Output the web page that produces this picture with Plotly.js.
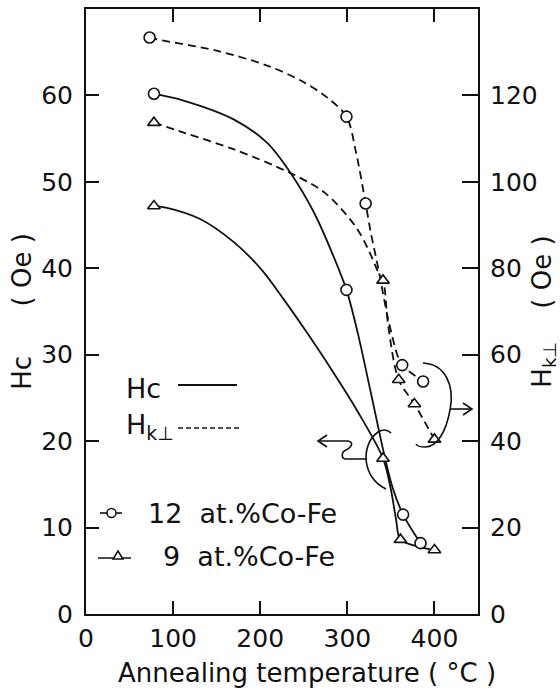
<!DOCTYPE html>
<html>
<head>
<meta charset="utf-8">
<script src="https://cdn.plot.ly/plotly-3.0.1.min.js"></script>
<style>
  html, body { margin: 0; padding: 0; background: #fff; }
  #chart { width: 560px; height: 688px; }
</style>
</head>
<body>
<div id="chart"></div>
<script>
// Measured points: coercive force Hc (left axis) and perpendicular anisotropy field Hk (right axis)
const tempHc12 = [78, 299, 364, 384];
const hc12     = [60.2, 37.5, 11.5, 8.2];
const tempHc9  = [78, 341, 361, 400];
const hc9      = [47.2, 18.0, 8.6, 7.4];
const tempHk12 = [73, 299, 321, 363, 387];
const hk12     = [133.4, 115.1, 95.0, 57.6, 53.8];
const tempHk9  = [78, 341, 359, 377, 400];
const hk9      = [113.7, 77.2, 54.2, 48.6, 40.4];

// Hand-drawn guide curves through the points, sampled along the drawn lines
const curveHc12T = [78, 112, 170, 208, 235, 262, 282, 299, 312, 327, 342, 352, 364, 384];
const curveHc12  = [60.2, 59.4, 57.2, 54.5, 51.0, 46.4, 41.9, 37.5, 32.5, 25.6, 18.6, 14.6, 11.5, 8.2];
const curveHc9T  = [78, 93, 131, 170, 201, 227, 254, 281, 312, 341, 350, 356, 361, 385, 400];
const curveHc9   = [47.2, 47.0, 45.7, 43.0, 39.9, 36.4, 32.5, 28.4, 23.4, 18.0, 14.4, 10.9, 8.6, 7.7, 7.4];
const curveHk12T = [73, 81, 151, 208, 247, 277, 299, 310, 321, 327, 335, 347, 358, 363, 387];
const curveHk12  = [133.4, 133.0, 130.3, 126.9, 123.4, 119.5, 115.1, 106.8, 95.0, 88.2, 80.5, 68.1, 59.6, 57.6, 53.8];
const curveHk9T  = [78, 112, 170, 235, 274, 309, 324, 335, 341, 347, 359, 377, 400];
const curveHk9   = [113.7, 111.4, 107.5, 102.0, 97.5, 89.8, 84.4, 79.3, 77.2, 66.6, 54.2, 48.6, 40.4];

// Axis ticks
const tempTicks = [0, 100, 200, 300, 400];
const hcTicks   = [0, 10, 20, 30, 40, 50, 60];
const hkTicks   = [0, 20, 40, 60, 80, 100, 120];

const FONT = 'DejaVu Sans';
const INK = '#111';

// Plot frame in pixels, used to place the key, the arrows and the x title
const L = 86, R = 478, T = 9, B = 614;
const W = 560, H = 688;
const px = x => (x - L) / (R - L);
const py = y => (B - y) / (B - T);
const path = s => s.replace(/(-?\d+(?:\.\d+)?),(-?\d+(?:\.\d+)?)/g,
  (m, a, b) => px(+a).toFixed(4) + ',' + py(+b).toFixed(4));

const solid = {color: INK, width: 1.8};
const dashed = {color: INK, width: 1.8, dash: '8px,5px'};
const circ = {symbol: 'circle', size: 11, color: '#fff', line: {color: INK, width: 1.6}};
const tri  = {symbol: 'triangle-up', size: 11, color: '#fff', line: {color: INK, width: 1.6}};
const spl = s => Object.assign({shape: 'spline', smoothing: 0.9}, s);

const traces = [
  {x: curveHc12T, y: curveHc12, mode: 'lines', line: spl(solid),  yaxis: 'y'},
  {x: curveHc9T,  y: curveHc9,  mode: 'lines', line: spl(solid),  yaxis: 'y'},
  {x: curveHk12T, y: curveHk12, mode: 'lines', line: spl(dashed), yaxis: 'y2'},
  {x: curveHk9T,  y: curveHk9,  mode: 'lines', line: spl(dashed), yaxis: 'y2'},
  {x: tempHc12, y: hc12, mode: 'markers', marker: circ, yaxis: 'y'},
  {x: tempHc9,  y: hc9,  mode: 'markers', marker: tri,  yaxis: 'y'},
  {x: tempHk12, y: hk12, mode: 'markers', marker: circ, yaxis: 'y2'},
  {x: tempHk9,  y: hk9,  mode: 'markers', marker: tri,  yaxis: 'y2'}
];

const tickFont = {family: FONT, size: 25, color: INK};
const titleFont = {family: FONT, size: 26, color: INK};
const keyFont = {family: FONT, size: 27, color: INK};
const NB = '\u00A0';

const shapes = [
  // key: line styles
  {type: 'line', xref: 'paper', yref: 'paper', x0: px(178), x1: px(237), y0: py(385), y1: py(385), line: {color: INK, width: 2}},
  {type: 'line', xref: 'paper', yref: 'paper', x0: px(178), x1: px(242), y0: py(428), y1: py(428), line: {color: INK, width: 1.6, dash: '5px,3px'}},
  // key: sample symbols
  {type: 'line', xref: 'paper', yref: 'paper', x0: px(100), x1: px(122), y0: py(513), y1: py(513), line: {color: INK, width: 1.6}},
  {type: 'circle', xref: 'paper', yref: 'paper', x0: px(107), x1: px(116), y0: py(517.5), y1: py(508.5), fillcolor: '#fff', line: {color: INK, width: 1.5}},
  {type: 'line', xref: 'paper', yref: 'paper', x0: px(98), x1: px(131), y0: py(558), y1: py(558), line: {color: INK, width: 1.6}},
  {type: 'path', xref: 'paper', yref: 'paper', path: path('M 113,559 L 123,559 L 118,551 Z'), fillcolor: '#fff', line: {color: INK, width: 1.5}},
  // arrow pointing to the left axis
  {type: 'path', xref: 'paper', yref: 'paper', path: path('M 386,489 C 362,478 360,445 378,432 C 383,429 388,430 391,433'), line: {color: INK, width: 1.6}},
  {type: 'path', xref: 'paper', yref: 'paper', path: path('M 367,459 L 346,459 C 341,459 341,452 346,450 C 352,447 354,442 348,441 L 318,441'), line: {color: INK, width: 1.6}},
  {type: 'path', xref: 'paper', yref: 'paper', path: path('M 327,435 L 318,441 L 327,447'), line: {color: INK, width: 1.6}},
  // arrow pointing to the right axis
  {type: 'path', xref: 'paper', yref: 'paper', path: path('M 423,363 C 445,364 455,385 450,410 C 446,432 437,447 425,447 C 420,447 417,446 416,444'), line: {color: INK, width: 1.6}},
  {type: 'path', xref: 'paper', yref: 'paper', path: path('M 450,409 L 472,409'), line: {color: INK, width: 1.6}},
  {type: 'path', xref: 'paper', yref: 'paper', path: path('M 463,403 L 472,409 L 463,415'), line: {color: INK, width: 1.6}}
];

const annotations = [
  {xref: 'paper', yref: 'paper', x: px(124), y: py(388), xanchor: 'left', yanchor: 'middle', showarrow: false, text: 'Hc', font: keyFont},
  {xref: 'paper', yref: 'paper', x: px(124), y: py(426), xanchor: 'left', yanchor: 'middle', showarrow: false, text: 'H<sub>k⊥</sub>', font: keyFont},
  {xref: 'paper', yref: 'paper', x: px(146), y: py(513), xanchor: 'left', yanchor: 'middle', showarrow: false, text: '12' + NB + NB + 'at.%Co-Fe', font: keyFont},
  {xref: 'paper', yref: 'paper', x: px(161), y: py(556), xanchor: 'left', yanchor: 'middle', showarrow: false, text: '9' + NB + NB + 'at.%Co-Fe', font: keyFont},
  // x-axis title
  {xref: 'paper', yref: 'paper', x: px(307), y: py(673), xanchor: 'center', yanchor: 'middle', showarrow: false,
   text: 'Annealing' + NB + 'temperature' + NB + '(' + NB + '°C' + NB + ')', font: titleFont}
];

const layout = {
  width: W, height: H,
  margin: {l: L, r: W - R, t: T, b: H - B, pad: 0},
  paper_bgcolor: '#fff', plot_bgcolor: '#fff',
  showlegend: false,
  xaxis: {
    range: [0, 450], tickvals: tempTicks, ticktext: tempTicks.map(String),
    ticks: 'inside', ticklen: 13, tickwidth: 2, tickcolor: INK,
    showline: true, linewidth: 2, linecolor: INK, mirror: 'ticks',
    showgrid: false, zeroline: false,
    tickfont: tickFont, ticklabelstandoff: 1
  },
  yaxis: {
    range: [0, 70], tickvals: hcTicks, ticktext: hcTicks.map(String),
    ticks: 'inside', ticklen: 13, tickwidth: 2, tickcolor: INK,
    showline: true, linewidth: 2, linecolor: INK, mirror: false,
    showgrid: false, zeroline: false,
    tickfont: tickFont, ticklabelstandoff: 6,
    title: {text: 'Hc' + NB.repeat(6) + '(' + NB + 'Oe' + NB + ')', font: titleFont, standoff: 2}
  },
  yaxis2: {
    overlaying: 'y', side: 'right',
    range: [0, 140], tickvals: hkTicks, ticktext: hkTicks.map(String),
    ticks: 'inside', ticklen: 16, tickwidth: 2, tickcolor: INK,
    showline: true, linewidth: 2, linecolor: INK,
    showgrid: false, zeroline: false,
    tickfont: tickFont, ticklabelstandoff: 5,
    title: {text: 'H<sub>k⊥</sub>' + NB.repeat(4) + '(' + NB + 'Oe' + NB + ')' + NB + NB, font: titleFont, standoff: 14}
  },
  shapes: shapes,
  annotations: annotations
};

Plotly.newPlot('chart', traces, layout, {staticPlot: true, displayModeBar: false});
</script>
</body>
</html>
